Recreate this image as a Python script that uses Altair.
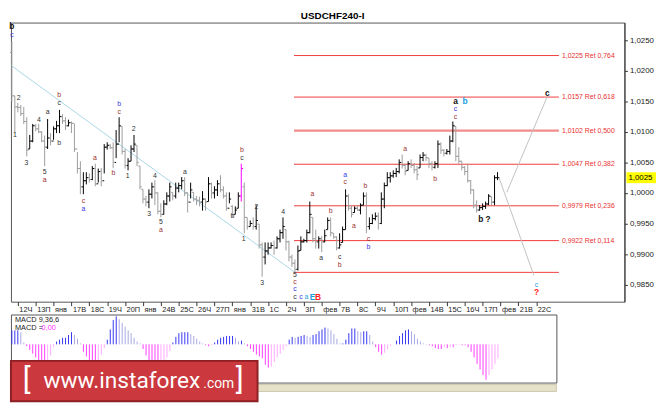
import altair as alt
import pandas as pd

# ---------------- data ----------------
highs = [1.0248, 1.0159, 1.0147, 1.0144, 1.0141, 1.0124, 1.0095, 1.0113, 1.0113, 1.0113,
         1.0101, 1.0094, 1.0121, 1.0098, 1.0109, 1.0118, 1.0136, 1.0129, 1.0124, 1.0120,
         1.0117, 1.0113, 1.0067, 1.0052, 1.0034, 1.0034, 1.0032, 1.0044, 1.0048, 1.0040,
         1.0041, 1.0080, 1.0083, 1.0080, 1.0083, 1.0103, 1.0124, 1.0109, 1.0072, 1.0057,
         1.0078, 1.0095, 1.0078, 1.0044, 1.0006, 0.9995, 1.0006, 1.0017, 1.0021, 1.0001,
         0.9983, 0.9988, 1.0001, 1.0017, 1.0001, 1.0017, 1.0017, 1.0026, 1.0026, 1.0001,
         1.0017, 1.0001, 0.9995, 0.9994, 1.0003, 0.9991, 1.0026, 1.0017, 1.0011, 1.0021,
         1.0029, 1.0011, 1.0001, 1.0001, 0.9980, 0.9978, 1.0001, 1.0048, 1.0017, 0.9960,
         0.9955, 0.9960, 0.9980, 0.9949, 0.9919, 0.9919, 0.9919, 0.9919, 0.9922, 0.9929,
         0.9940, 0.9960, 0.9940, 0.9922, 0.9899, 0.9891, 0.9914, 0.9929, 0.9925, 0.9940,
         0.9986, 0.9960, 0.9940, 0.9929, 0.9929, 0.9940, 0.9960, 0.9960, 0.9934, 0.9929,
         0.9934, 0.9945, 1.0006, 0.9998, 0.9980, 0.9978, 0.9980, 0.9983, 1.0001, 1.0001,
         0.9960, 0.9965, 0.9968, 0.9968, 1.0001, 1.0017, 1.0034, 1.0034, 1.0037, 1.0041,
         1.0055, 1.0063, 1.0048, 1.0052, 1.0055, 1.0049, 1.0044, 1.0063, 1.0067, 1.0064,
         1.0057, 1.0052, 1.0052, 1.0086, 1.0083, 1.0072, 1.0072, 1.0094, 1.0117, 1.0109,
         1.0075, 1.0052, 1.0044, 1.0048, 1.0021, 1.0006, 0.9988, 0.9980, 0.9983, 0.9986,
         0.9998, 0.9994, 1.0029, 1.0034]
lows = [1.0149, 1.0098, 1.0132, 1.0126, 1.0113, 1.0060, 1.0072, 1.0083, 1.0101, 1.0098,
        1.0083, 1.0044, 1.0072, 1.0078, 1.0087, 1.0098, 1.0098, 1.0113, 1.0103, 1.0109,
        1.0098, 1.0067, 1.0032, 0.9998, 0.9998, 1.0014, 1.0017, 1.0021, 1.0011, 1.0017,
        1.0011, 1.0032, 1.0071, 1.0072, 1.0041, 1.0057, 1.0083, 1.0063, 1.0040, 1.0037,
        1.0052, 1.0067, 1.0044, 1.0006, 0.9983, 0.9978, 0.9975, 0.9991, 0.9980, 0.9965,
        0.9960, 0.9965, 0.9980, 0.9986, 0.9988, 0.9991, 1.0001, 1.0006, 0.9995, 0.9968,
        0.9991, 0.9986, 0.9980, 0.9978, 0.9971, 0.9971, 0.9986, 0.9991, 0.9991, 0.9995,
        1.0001, 0.9991, 0.9971, 0.9983, 0.9960, 0.9965, 0.9975, 0.9986, 0.9934, 0.9940,
        0.9945, 0.9940, 0.9940, 0.9909, 0.9863, 0.9883, 0.9899, 0.9909, 0.9899, 0.9909,
        0.9919, 0.9925, 0.9906, 0.9888, 0.9879, 0.9868, 0.9873, 0.9906, 0.9919, 0.9919,
        0.9934, 0.9919, 0.9909, 0.9909, 0.9903, 0.9919, 0.9940, 0.9929, 0.9925, 0.9906,
        0.9909, 0.9919, 0.9940, 0.9971, 0.9960, 0.9968, 0.9971, 0.9965, 0.9980, 0.9934,
        0.9940, 0.9949, 0.9955, 0.9940, 0.9949, 0.9975, 1.0011, 1.0017, 1.0025, 1.0026,
        1.0032, 1.0040, 1.0029, 1.0037, 1.0041, 1.0032, 1.0021, 1.0041, 1.0052, 1.0052,
        1.0041, 1.0037, 1.0040, 1.0041, 1.0064, 1.0060, 1.0063, 1.0063, 1.0083, 1.0052,
        1.0048, 1.0037, 1.0029, 1.0017, 0.9998, 0.9975, 0.9968, 0.9971, 0.9972, 0.9974,
        0.9980, 0.9980, 0.9980, 1.0021]
opens = [1.0230, 1.0159, 1.0141, 1.0140, 1.0130, 1.0117, 1.0072, 1.0085, 1.0110, 1.0105,
         1.0100, 1.0085, 1.0075, 1.0090, 1.0085, 1.0105, 1.0110, 1.0125, 1.0118, 1.0110,
         1.0115, 1.0114, 1.0072, 1.0040, 1.0010, 1.0020, 1.0025, 1.0022, 1.0040, 1.0015,
         1.0035, 1.0020, 1.0075, 1.0078, 1.0074, 1.0050, 1.0080, 1.0109, 1.0068, 1.0045,
         1.0052, 1.0072, 1.0078, 1.0044, 1.0006, 0.9990, 0.9985, 0.9998, 1.0010, 1.0000,
         0.9970, 0.9965, 0.9982, 0.9995, 1.0001, 0.9995, 1.0008, 1.0012, 1.0020, 1.0000,
         0.9985, 1.0001, 0.9990, 0.9988, 0.9985, 0.9990, 0.9986, 1.0015, 1.0000, 1.0005,
         1.0015, 1.0005, 0.9995, 0.9975, 0.9978, 0.9965, 0.9975, 0.9995, 1.0010, 0.9960,
         0.9945, 0.9950, 0.9945, 0.9949, 0.9915, 0.9895, 0.9905, 0.9910, 0.9914, 0.9910,
         0.9925, 0.9935, 0.9940, 0.9920, 0.9895, 0.9885, 0.9875, 0.9906, 0.9920, 0.9922,
         0.9935, 0.9960, 0.9925, 0.9920, 0.9925, 0.9920, 0.9940, 0.9955, 0.9934, 0.9928,
         0.9910, 0.9919, 0.9940, 0.9995, 0.9975, 0.9968, 0.9975, 0.9972, 0.9980, 0.9995,
         0.9945, 0.9950, 0.9958, 0.9962, 0.9950, 0.9990, 1.0012, 1.0025, 1.0028, 1.0032,
         1.0035, 1.0050, 1.0045, 1.0037, 1.0048, 1.0045, 1.0038, 1.0041, 1.0058, 1.0062,
         1.0057, 1.0048, 1.0042, 1.0048, 1.0080, 1.0070, 1.0065, 1.0068, 1.0085, 1.0109,
         1.0060, 1.0052, 1.0042, 1.0035, 1.0020, 1.0005, 0.9980, 0.9972, 0.9976, 0.9978,
         0.9982, 0.9994, 0.9985, 1.0025]
closes = [1.0159, 1.0141, 1.0140, 1.0130, 1.0117, 1.0070, 1.0085, 1.0110, 1.0105, 1.0100,
          1.0085, 1.0075, 1.0090, 1.0085, 1.0105, 1.0110, 1.0125, 1.0118, 1.0110, 1.0115,
          1.0114, 1.0072, 1.0040, 1.0010, 1.0020, 1.0025, 1.0022, 1.0040, 1.0015, 1.0035,
          1.0020, 1.0075, 1.0078, 1.0074, 1.0050, 1.0080, 1.0110, 1.0068, 1.0045, 1.0052,
          1.0072, 1.0080, 1.0050, 1.0010, 0.9990, 0.9985, 0.9998, 1.0010, 1.0000, 0.9970,
          0.9965, 0.9982, 0.9995, 1.0010, 0.9995, 1.0008, 1.0012, 1.0020, 1.0000, 0.9985,
          1.0005, 0.9990, 0.9988, 0.9985, 0.9990, 0.9985, 1.0015, 1.0000, 1.0005, 1.0015,
          1.0005, 0.9995, 0.9975, 0.9990, 0.9965, 0.9972, 0.9995, 1.0040, 0.9960, 0.9945,
          0.9950, 0.9945, 0.9955, 0.9915, 0.9895, 0.9905, 0.9910, 0.9914, 0.9910, 0.9925,
          0.9935, 0.9945, 0.9920, 0.9895, 0.9885, 0.9875, 0.9905, 0.9920, 0.9922, 0.9935,
          0.9965, 0.9925, 0.9920, 0.9925, 0.9920, 0.9930, 0.9955, 0.9935, 0.9928, 0.9910,
          0.9915, 0.9940, 0.9995, 0.9975, 0.9965, 0.9975, 0.9972, 0.9980, 0.9995, 0.9945,
          0.9950, 0.9958, 0.9962, 0.9950, 0.9990, 1.0012, 1.0025, 1.0028, 1.0032, 1.0035,
          1.0050, 1.0045, 1.0035, 1.0048, 1.0045, 1.0038, 1.0030, 1.0058, 1.0062, 1.0058,
          1.0048, 1.0042, 1.0048, 1.0080, 1.0070, 1.0065, 1.0068, 1.0085, 1.0110, 1.0060,
          1.0052, 1.0042, 1.0035, 1.0020, 1.0005, 0.9980, 0.9972, 0.9976, 0.9978, 0.9982,
          0.9995, 0.9985, 1.0025, 1.0025]
highlight_bar = 77          # the bar drawn in magenta

# MACD(9,36,6) histogram, in pips
macd_hist = [15, 15, 15, 13, 2, -2, -6, -10, -14, -17,
             -19, -20, -19, -12, -3, 3, 5, 7, 7, 10,
             13, 10, 6, 1, -8, -13, -17, -19, -19, -17,
             -11, -4, 5, 16, 26, 30, 27, 23, 19, 15,
             12, 7, 3, 1, -5, -12, -17, -20, -21, -21,
             -20, -18, -14, -7, 2, 8, 12, 13, 13, 13,
             11, 9, 6, 3, 1, -1, -2, -1, 2, 5,
             7, 8, 9, 9, 9, 7, 3, 4, 1, -2,
             -5, -8, -11, -13, -15, -22, -25, -24, -19, -14,
             -10, -6, -2, 5, 8, 7, 8, 9, 10, 9,
             8, 10, 11, 14, 16, 18, 17, 15, 11, 6,
             1, 1, 5, 12, 17, 17, 14, 13, 14, 14,
             10, 3, -3, -8, -11, -9, -5, -2, 0, 4,
             9, 12, 15, 16, 14, 11, 6, 3, 1, 0.5,
             -1, -2, -4, -5, -5, -3, -4, -3, -3, -1,
             -0.5, -1, -1, -3, -8, -14, -21, -27, -33, -38,
             -33, -27, -21, -15]

day_labels = ["12Ч", "13П", "янв", "17В", "18С", "19Ч", "20П", "янв", "24В", "25С",
              "26Ч", "27П", "янв", "31В", "1С", "2Ч", "3П", "фев", "7В", "8С",
              "9Ч", "10П", "фев", "14В", "15С", "16Ч", "17П", "фев", "21В", "22С"]
day_first_bar = [2, 8, 14, 20, 26, 32, 38, 44, 50, 56, 62, 68, 74, 80, 86, 92, 98, 104,
                 110, 116, 122, 128, 134, 140, 146, 152, 158, 164, 170, 176]
price_ticks = [0.985, 0.990, 0.995, 1.000, 1.005, 1.010, 1.015, 1.020, 1.025]

fib_levels = [1.0225, 1.0157, 1.0102, 1.0047, 0.9979, 0.9922, 0.9870]
fib_ratios = [0.764, 0.618, 0.500, 0.382, 0.236, 0.114, 0.0]
fib_texts = ["1,0225 Ret 0,764", "1,0157 Ret 0,618", "1,0102 Ret 0,500",
             "1,0047 Ret 0,382", "0,9979 Ret 0,236", "0,9922 Ret 0,114", ""]
fib_from_bar, fib_to_bar, fib_text_bar = 94.7, 183.6, 184.6

trend_from = (-0.3, 1.0209)
trend_to = (95.0, 0.9870)
proj_from_bar = [163.5, 166.1]
proj_from_price = [1.0025, 1.0001]
proj_to_bar = [175.2, 179.7]
proj_to_price = [0.9865, 1.0158]

wave_text = ["b", "c", "2", "1", "3", "4", "5", "a", "a", "b",
             "c", "b", "c", "a", "a", "b", "b", "c", "1", "2",
             "3", "4", "5", "a", "a", "b", "b", "c", "1", "2",
             "3", "4", "5", "c", "c", "c", "c", "a", "E", "B",
             "a", "a", "b", "c", "b", "a", "c", "a", "b", "c",
             "b", "a", "b", "a", "b", "c", "c", "b ?", "c", "c", "?"]
wave_bar = [0, 0, 2.3, 1.0, 4.9, 9.1, 11, 11, 12, 15.9,
            15.9, 15.9, 24, 24, 27.9, 34.1, 36, 36, 38.9, 40.9,
            46.1, 48, 50, 50, 58.1, 74, 77.2, 77.2, 77.8, 82.1,
            84, 91.1, 95, 95, 95, 95, 97, 98.9, 100.9, 102.8,
            100.9, 103.8, 107, 110, 110, 111.9, 111.9, 114.8, 118.7, 119.7,
            119.7, 132, 142.1, 148.9, 152.1, 148.9, 148.9, 158.6, 179.7, 176.1, 176.1]
wave_price = [1.0273, 1.0259, 1.0156, 1.0095, 1.0049, 1.0120, 1.0035, 1.0021, 1.0132, 1.0161,
              1.0147, 1.0081, 0.9987, 0.9974, 1.0057, 1.0032, 1.0145, 1.0132, 1.0028, 1.0104,
              0.9965, 1.0028, 0.9953, 0.9940, 1.0034, 0.9963, 1.0071, 1.0057, 0.9925, 0.9977,
              0.9853, 0.9969, 0.9866, 0.9854, 0.9842, 0.9830, 0.9830, 0.9830, 0.9830, 0.9830,
              0.9998, 0.9894, 0.9971, 0.9895, 0.9882, 1.0030, 1.0018, 0.9946, 1.0011, 0.9925,
              0.9911, 1.0072, 1.0023, 1.0151, 1.0151, 1.0137, 1.0125, 0.9957, 1.0164, 0.9850, 0.9837]
wave_degree = ["K", "b", "k", "k", "k", "k", "k", "r", "k", "r",
               "k", "k", "r", "b", "r", "r", "b", "r", "k", "k",
               "k", "k", "k", "r", "k", "k", "r", "k", "k", "k",
               "k", "k", "k", "r", "b", "k", "b", "c", "C", "R",
               "r", "k", "r", "k", "r", "b", "r", "r", "r", "r",
               "b", "r", "r", "K", "C", "b", "r", "K", "K", "c", "R"]

# ---------------- styling ----------------
FONT = "Liberation Sans"
W1, H1 = 622, 283
W2, H2 = 553, 69
degree_colors = {"k": "#333333", "r": "#9b3030", "b": "#3636e8", "c": "#1a9ee0",
                 "K": "#111111", "C": "#1a9ee0", "R": "#ff2020"}

n = len(highs)
bars = pd.DataFrame({"i": list(range(n)), "high": highs, "low": lows,
                     "open": opens, "close": closes})
bars["col"] = ["#ff00ff" if i == highlight_bar else ("#000000" if c >= o else "#9c9c9c")
               for i, o, c in zip(bars["i"], opens, closes)]

xs = alt.Scale(domain=[-0.3, 205.6], nice=False, zero=False)
ys = alt.Scale(domain=[0.9822, 1.0279], nice=False, zero=False)
tick_arr = "[" + ",".join(str(v) for v in day_first_bar) + "]"
lab_arr = "[" + ",".join("'" + s + "'" for s in day_labels) + "]"
x_axis = alt.Axis(values=day_first_bar, labelExpr=f"{lab_arr}[indexof({tick_arr}, datum.value)]",
                  domain=False, grid=False, tickSize=4, tickColor="#333333",
                  labelFont=FONT, labelFontSize=7.5, labelColor="#222222",
                  labelAlign="left", labelBaseline="top", labelPadding=0, labelOffset=1,
                  labelFlush=False, labelOverlap=False)
y_axis = alt.Axis(orient="right", values=price_ticks,
                  labelExpr="replace(format(datum.value, '.4f'), '.', ',')",
                  grid=False, domain=True, domainColor="#333333", tickSize=3,
                  tickColor="#333333", labelFont=FONT, labelFontSize=8,
                  labelColor="#222222", labelPadding=2)


def PX(f):
    return alt.X(f"{f}:Q", scale=xs, axis=x_axis, title=None)


def PY(f):
    return alt.Y(f"{f}:Q", scale=ys, axis=y_axis, title=None)


fib_df = pd.DataFrame({"level": fib_levels, "ratio": fib_ratios, "text": fib_texts,
                       "x0": fib_from_bar, "x1": fib_to_bar, "xt": fib_text_bar})
fib_rules = alt.Chart(fib_df).mark_rule().encode(
    x=PX("x0"), x2="x1", y=PY("level"),
    strokeWidth=alt.condition("datum.ratio == 0.5", alt.value(2.2), alt.value(1)),
    color=alt.condition("datum.ratio == 0.5", alt.value("#f28c8c"), alt.value("#f23c3c")))
fib_lbl = alt.Chart(fib_df).transform_filter("datum.text != ''").mark_text(
    align="left", baseline="middle", font=FONT, fontSize=7, color="#e8302f").encode(
    x=PX("xt"), y=PY("level"), text="text:N")

trend_df = pd.DataFrame({"x0": [trend_from[0]], "y0": [trend_from[1]],
                         "x1": [trend_to[0]], "y1": [trend_to[1]]})
trend = alt.Chart(trend_df).mark_rule(color="#a9d6e8", strokeWidth=1).encode(
    x=PX("x0"), y=PY("y0"), x2="x1", y2="y1")
proj_df = pd.DataFrame({"x0": proj_from_bar, "y0": proj_from_price,
                        "x1": proj_to_bar, "y1": proj_to_price})
proj = alt.Chart(proj_df).mark_rule(color="#c2c2c2", strokeWidth=1).encode(
    x=PX("x0"), y=PY("y0"), x2="x1", y2="y1")

col_enc = alt.Color("col:N", scale=None)
hl = alt.Chart(bars).mark_rule(strokeWidth=1).encode(
    x=PX("i"), y=PY("low"), y2="high", color=col_enc)
op = alt.Chart(bars).transform_calculate(xo="datum.i - 0.6").mark_rule(strokeWidth=1).encode(
    x=PX("xo"), x2="i", y=PY("open"), color=col_enc)
cl = alt.Chart(bars).transform_calculate(xc="datum.i + 0.6").mark_rule(strokeWidth=1).encode(
    x=PX("i"), x2="xc", y=PY("close"), color=col_enc)

wdf = pd.DataFrame({"text": wave_text, "bar": wave_bar, "price": wave_price,
                    "deg": wave_degree})
wdf["col"] = [degree_colors[d] for d in wave_degree]
wdf["bold"] = [d in ("K", "C", "R") for d in wave_degree]
w_norm = alt.Chart(wdf).transform_filter("!datum.bold").mark_text(
    font=FONT, fontSize=7, baseline="middle").encode(
    x=PX("bar"), y=PY("price"), text="text:N", color=col_enc)
w_bold = alt.Chart(wdf).transform_filter("datum.bold").mark_text(
    font=FONT, fontSize=8.5, fontWeight="bold", baseline="middle").encode(
    x=PX("bar"), y=PY("price"), text="text:N", color=col_enc)

tag_df = pd.DataFrame({"price": [closes[-1]],
                       "txt": [f"{closes[-1]:.4f}".replace(".", ",")]})
tag_box = alt.Chart(tag_df).mark_tick(orient="horizontal", color="#ffff00", thickness=11,
                                      size=30, opacity=1).encode(
    x=alt.value(W1 + 17), y=PY("price"))
tag_txt = alt.Chart(tag_df).mark_text(align="left", baseline="middle", font=FONT,
                                      fontSize=8, color="#000000").encode(
    x=alt.value(W1 + 4), y=PY("price"), text="txt:N")

price = alt.layer(fib_rules, fib_lbl, trend, proj, hl, op, cl, w_norm, w_bold,
                  tag_box, tag_txt).properties(width=W1, height=H1)

# ---------------- MACD panel ----------------
macd_col = []
prev = 0
for v in macd_hist:
    if v >= 0:
        macd_col.append("#3535f2" if v >= prev else "#a8a8e4")
    else:
        macd_col.append("#ff3cff" if v <= prev else "#ffa8ff")
    prev = v
mdf = pd.DataFrame({"i": list(range(n)), "h": macd_hist, "col": macd_col})
mxs = alt.Scale(domain=[-0.3, 182.6], nice=False, zero=False)
mys = alt.Scale(domain=[-41, 32], nice=False, zero=False)
hist = alt.Chart(mdf).mark_rule(strokeWidth=1).encode(
    x=alt.X("i:Q", scale=mxs, axis=None), y=alt.Y("h:Q", scale=mys, axis=None),
    y2=alt.datum(0), color=alt.Color("col:N", scale=None))


def label(txt, x, y, **kw):
    return alt.Chart(pd.DataFrame({"t": [txt]})).mark_text(**kw).encode(
        x=alt.value(x), y=alt.value(y), text="t:N")


one = pd.DataFrame({"k": [0]})
strip = alt.Chart(one).mark_rect(fill="#e6e1c9", stroke="#cdc8ae").encode(
    x=alt.value(0), x2=alt.value(W2), y=alt.value(H2 + 2), y2=alt.value(H2 + 9))
banner = alt.Chart(one).mark_rect(fill="#cb383d", stroke="#8e1f24", strokeWidth=2).encode(
    x=alt.value(0), x2=alt.value(250), y=alt.value(47), y2=alt.value(88))

macd = alt.layer(
    hist,
    label("MACD 9,36,6", 4, 6, align="left", baseline="middle", font=FONT, fontSize=7.5, color="#222222"),
    label("MACD =", 4, 14, align="left", baseline="middle", font=FONT, fontSize=7.5, color="#222222"),
    label("0,00", 31, 14, align="left", baseline="middle", font=FONT, fontSize=7.5, color="#ff33ff"),
    strip, banner,
    label("[", 16, 67, align="center", baseline="middle", font="Roboto", fontSize=30, color="#ffffff"),
    label("www.instaforex", 33, 75, align="left", baseline="alphabetic", font="Roboto", fontSize=23, color="#ffffff"),
    label(".com", 195, 75, align="left", baseline="alphabetic", font="Roboto", fontSize=14, color="#ffffff"),
    label("]", 232, 67, align="center", baseline="middle", font="Roboto", fontSize=30, color="#ffffff"),
).properties(width=W2, height=H2)

chart = alt.vconcat(price, macd, spacing=0).resolve_scale(
    x="independent", y="independent", color="independent"
).properties(
    title=alt.TitleParams("USDCHF240-I", font=FONT, fontSize=10, fontWeight="bold",
                          anchor="middle", offset=1, color="#000000"),
    padding={"left": 0, "top": 0, "right": 0, "bottom": 0},
    background="#ffffff",
).configure_view(stroke="#555555", strokeWidth=1)

chart.save("out.html", embed_options={"renderer": "svg", "actions": False})
